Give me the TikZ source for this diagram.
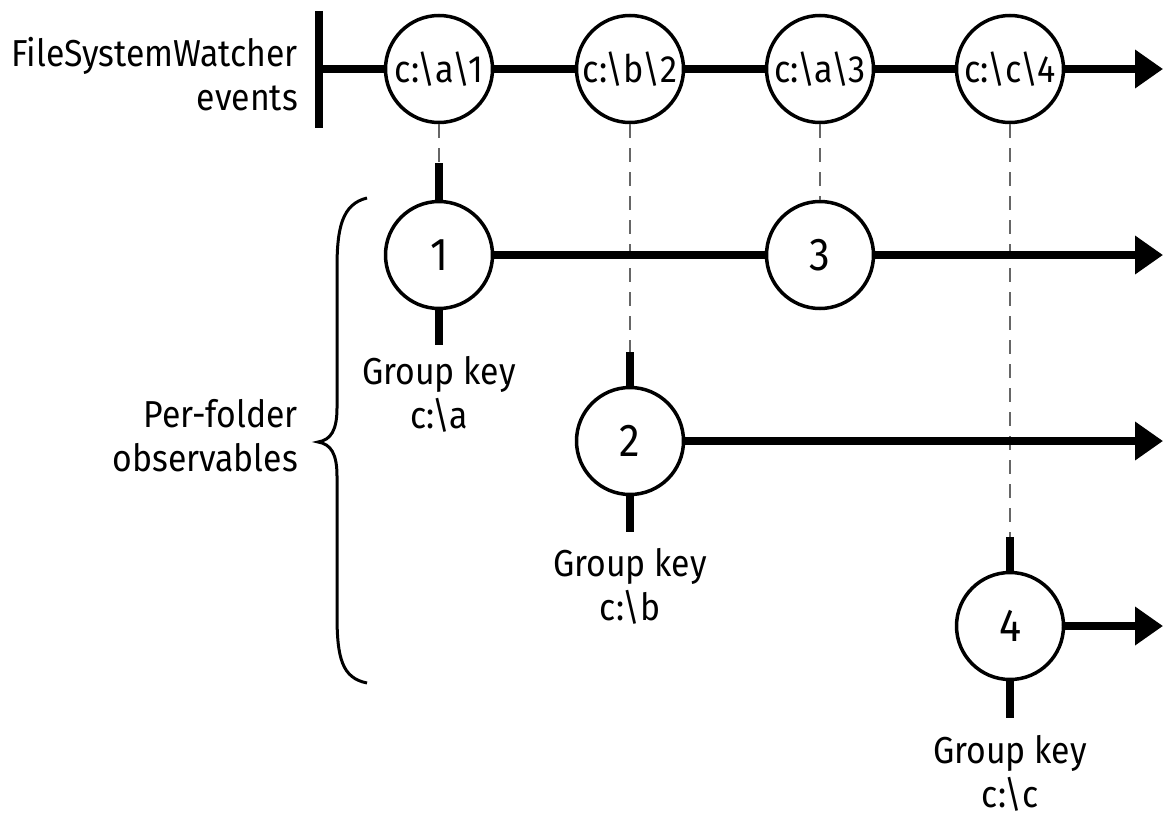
\documentclass[tikz,border=0pt]{standalone}
\usepackage{fontspec}
\setmainfont{Fira Sans}[FakeStretch=0.9]
\usetikzlibrary{arrows.meta}

\begin{document}
\begin{tikzpicture}[x=1pt,y=-1pt,
  marble/.style={circle,draw,line width=3.5pt,fill=white,minimum size=107pt,inner sep=0pt},
  evt/.style={marble,font=\fontsize{38}{40}\selectfont},
  val/.style={marble,font=\fontsize{46}{48}\selectfont},
  timeline/.style={line width=7.5pt,-{Triangle[length=28pt,width=37pt]}},
  stem/.style={line width=7.5pt},
  guide/.style={black!60,line width=2.2pt,dash pattern=on 14pt off 10pt},
  lbl/.style={align=center,inner sep=0pt,font=\fontsize{37.5}{44}\selectfont}]
\useasboundingbox (0,0) rectangle (1164,816);
% source stream
\node[lbl,align=right,anchor=east] (src) at (298,74) {FileSystemWatcher\\events};
\coordinate (bartop) at (319,11); \coordinate (barbot) at (319,128);
\coordinate (bar) at (319,69); \coordinate (end0) at (1163,69);
\node[evt] (e1) at (439,69) {c:\textbackslash a\textbackslash 1};
\node[evt] (e2) at (630,69) {c:\textbackslash b\textbackslash 2};
\node[evt] (e3) at (820,69) {c:\textbackslash a\textbackslash 3};
\node[evt] (e4) at (1010,69) {c:\textbackslash c\textbackslash 4};
\draw[stem] (bartop) -- (barbot);
\draw[timeline] (bar) -- (e1) -- (e2) -- (e3) -- (e4) -- (end0);
% grouped streams
\node[val] (g1) at (439,255) {1};
\node[val] (g3) at (820,255) {3};
\node[val] (g2) at (630,441) {2};
\node[val] (g4) at (1010,626) {4};
\coordinate (end1) at (1163,255); \coordinate (end2) at (1163,441); \coordinate (end3) at (1163,626);
\coordinate (t1) at (439,163); \coordinate (b1) at (439,345);
\coordinate (t2) at (630,352); \coordinate (b2) at (630,532);
\coordinate (t4) at (1010,537); \coordinate (b4) at (1010,718);
\draw[guide] (e1.south) -- (t1);
\draw[guide] (e2.south) -- (t2);
\draw[guide] (e3.south) -- (g3.north);
\draw[guide] (e4.south) -- (t4);
\draw[timeline] (g1) -- (g3) -- (end1);
\draw[timeline] (g2) -- (end2);
\draw[timeline] (g4) -- (end3);
\draw[stem] (t1) -- (g1.north);  \draw[stem] (g1.south) -- (b1);
\draw[stem] (t2) -- (g2.north);  \draw[stem] (g2.south) -- (b2);
\draw[stem] (t4) -- (g4.north);  \draw[stem] (g4.south) -- (b4);
\node[lbl,anchor=north] (k1) at (439,356) {Group key\\c:\textbackslash a};
\node[lbl,anchor=north] (k2) at (630,548) {Group key\\c:\textbackslash b};
\node[lbl,anchor=north] (k4) at (1010,735) {Group key\\c:\textbackslash c};
% brace
\coordinate (brtop) at (367,198); \coordinate (brtip) at (318,442); \coordinate (brbot) at (367,683);
\draw[line width=3pt] (brtop) .. controls (342,204) and (337,228) .. (337,268) -- (337,408)
  .. controls (337,430) and (331,440) .. (brtip) .. controls (331,444) and (337,454) .. (337,476)
  -- (337,615) .. controls (337,658) and (342,678) .. (brbot);
\node[lbl,align=right,anchor=east] (per) at (298,436) {Per-folder\\observables};
\end{tikzpicture}
\end{document}
